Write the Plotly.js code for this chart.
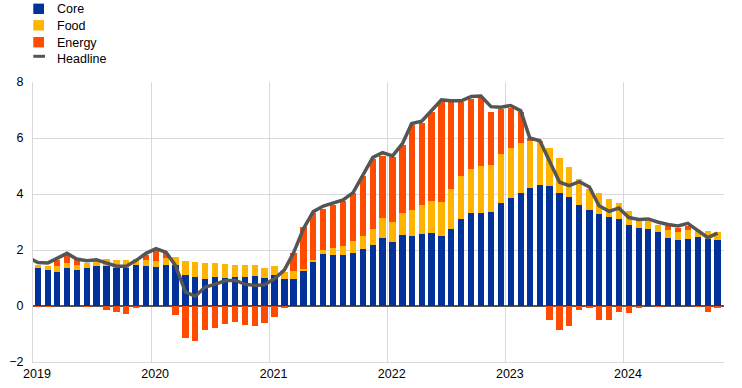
<!DOCTYPE html>
<html>
<head>
<meta charset="utf-8">
<script src="https://cdn.plot.ly/plotly-3.0.1.min.js"></script>
<style>html,body{margin:0;padding:0;background:#fff;}#chart{width:742px;height:388px;}</style>
</head>
<body>
<div id="chart"></div>
<script>
// Monthly categories: Jan 2019 .. Oct 2024 (plotted at mid-month)
const startYear = 2019;
const nMonths = 70;
const months = [];
for (let i = 0; i < nMonths; i++) {
  const y = startYear + Math.floor(i / 12);
  const m = (i % 12) + 1;
  months.push(y + '-' + String(m).padStart(2, '0') + '-16');
}

const core = [
  1.37, 1.30, 1.23, 1.37, 1.27, 1.37, 1.44, 1.44, 1.36, 1.36, 1.48, 1.44,
  1.41, 1.48, 1.45, 1.09, 1.02, 0.95, 1.05, 1.01, 1.04, 1.02, 1.08, 1.01,
  1.11, 0.96, 0.96, 1.25, 1.57, 1.86, 1.82, 1.82, 1.89, 2.04, 2.18, 2.43,
  2.29, 2.54, 2.50, 2.57, 2.61, 2.50, 2.75, 3.11, 3.32, 3.32, 3.36, 3.69,
  3.87, 4.05, 4.23, 4.33, 4.30, 4.05, 3.90, 3.62, 3.44, 3.30, 3.19, 3.12,
  2.90, 2.80, 2.76, 2.65, 2.44, 2.37, 2.40, 2.48, 2.40, 2.37
];
const food = [
  0.10, 0.14, 0.21, 0.18, 0.21, 0.18, 0.20, 0.24, 0.30, 0.30, 0.20, 0.19,
  0.21, 0.23, 0.29, 0.53, 0.56, 0.60, 0.50, 0.49, 0.44, 0.46, 0.40, 0.36,
  0.32, 0.27, 0.29, 0.07, 0.07, 0.14, 0.25, 0.32, 0.43, 0.46, 0.57, 0.71,
  0.71, 0.78, 0.93, 1.04, 1.14, 1.21, 1.43, 1.53, 1.57, 1.68, 1.68, 1.75,
  1.78, 1.78, 1.67, 1.54, 1.35, 1.25, 1.08, 0.93, 0.74, 0.74, 0.64, 0.56,
  0.50, 0.26, 0.30, 0.25, 0.29, 0.26, 0.30, 0.25, 0.29, 0.28
];
const energy = [
  -0.05, -0.05, 0.21, 0.28, 0.21, -0.04, 0.00, -0.15, -0.22, -0.27, -0.08, 0.20,
  0.37, 0.17, -0.33, -1.14, -1.25, -0.86, -0.77, -0.66, -0.58, -0.69, -0.73, -0.60,
  -0.38, -0.06, 0.65, 1.50, 1.69, 1.48, 1.55, 1.62, 1.73, 2.14, 2.50, 2.23,
  2.33, 2.42, 3.03, 2.94, 3.19, 3.59, 3.12, 2.66, 2.50, 2.45, 1.89, 1.58,
  1.43, 1.10, 0.10, 0.02, -0.49, -0.87, -0.70, -0.13, -0.06, -0.49, -0.49, -0.23,
  -0.26, -0.08, 0.00, -0.04, 0.12, 0.16, 0.16, -0.03, -0.23, -0.08
];
// Headline: one extra point for Dec 2018 (just left of the axis), then Jan 2019 .. Oct 2024
const headlineMonths = ['2018-12-16'].concat(months);
const headline = [
  1.75,
  1.55, 1.54, 1.69, 1.88, 1.68, 1.62, 1.65, 1.52, 1.42, 1.42, 1.63, 1.88,
  2.05, 1.92, 1.45, 0.50, 0.35, 0.68, 0.77, 0.90, 0.92, 0.78, 0.73, 0.76,
  0.97, 1.29, 1.90, 2.77, 3.37, 3.57, 3.67, 3.79, 4.05, 4.65, 5.31, 5.48,
  5.36, 5.81, 6.52, 6.60, 6.98, 7.36, 7.33, 7.33, 7.48, 7.50, 7.12, 7.10,
  7.16, 6.97, 6.00, 5.90, 5.17, 4.42, 4.30, 4.44, 4.25, 3.58, 3.38, 3.50,
  3.16, 3.09, 3.11, 2.99, 2.91, 2.86, 2.95, 2.69, 2.44, 2.60
];
const yearTicks = ['2019-01-01', '2020-01-01', '2021-01-01', '2022-01-01', '2023-01-01', '2024-01-01'];
const yearLabels = ['2019', '2020', '2021', '2022', '2023', '2024'];
const seriesNames = ['Core', 'Food', 'Energy', 'Headline'];
const seriesColors = ['#003299', '#FFB400', '#FF4B00', '#555555'];

const barWidth = 19.5 * 24 * 3600 * 1000;
const FONT = 'Liberation Sans, Arial, sans-serif';

const traces = [
  {type: 'bar', name: seriesNames[0], x: months, y: core, width: barWidth,
   marker: {color: seriesColors[0], line: {width: 0}}},
  {type: 'bar', name: seriesNames[1], x: months, y: food, width: barWidth,
   marker: {color: seriesColors[1], line: {width: 0}}},
  {type: 'bar', name: seriesNames[2], x: months, y: energy, width: barWidth,
   marker: {color: seriesColors[2], line: {width: 0}}},
  {type: 'scatter', mode: 'lines', name: seriesNames[3], x: headlineMonths, y: headline,
   line: {color: seriesColors[3], width: 3.5}, cliponaxis: true}
];

// Legend drawn at the top-left in pixel positions (converted to paper coords)
const W = 742, H = 388, ML = 33, MR = 18, MT = 82, MB = 26;
const PW = W - ML - MR, PH = H - MT - MB;
const px = v => (v - ML) / PW;
const py = v => (H - MB - v) / PH;
const legendRows = [8.8, 25.3, 42.2, 57.0];
const shapes = [];
const annotations = [];
for (let k = 0; k < 4; k++) {
  const yc = legendRows[k];
  if (k < 3) {
    shapes.push({type: 'rect', xref: 'paper', yref: 'paper',
      x0: px(33.3), x1: px(44), y0: py(yc - 5.2), y1: py(yc + 5.2),
      fillcolor: seriesColors[k], line: {width: 0}, layer: 'above'});
  } else {
    shapes.push({type: 'line', xref: 'paper', yref: 'paper',
      x0: px(33.3), x1: px(45), y0: py(yc - 0.7), y1: py(yc - 0.7),
      line: {color: seriesColors[k], width: 3}, layer: 'above'});
  }
  annotations.push({xref: 'paper', yref: 'paper', x: px(54.5), y: py(yc + (k === 3 ? 1.5 : 0.3)),
    xanchor: 'left', yanchor: 'middle', showarrow: false, text: seriesNames[k],
    font: {family: FONT, size: 12.5, color: '#000000'}});
}

const layout = {
  width: W, height: H,
  margin: {l: ML, r: MR, t: MT, b: MB, pad: 0},
  paper_bgcolor: '#ffffff', plot_bgcolor: '#ffffff',
  barmode: 'relative',
  bargap: 0,
  font: {family: FONT, size: 12.5, color: '#000000'},
  showlegend: false,
  shapes: shapes,
  annotations: annotations,
  xaxis: {type: 'date', range: ['2019-01-01', '2024-11-05'],
          tickmode: 'array', tickvals: yearTicks, ticktext: yearLabels,
          showgrid: true, gridcolor: '#d9d9d9', gridwidth: 1,
          showline: true, linecolor: '#d9d9d9', linewidth: 1,
          ticks: '', zeroline: false, ticklabelshift: 4,
          tickfont: {family: FONT, size: 12.5, color: '#000000'}},
  yaxis: {range: [-2, 8], tickmode: 'array', tickvals: [-2, 0, 2, 4, 6, 8],
          showgrid: true, gridcolor: '#d9d9d9', gridwidth: 1,
          showline: true, linecolor: '#d9d9d9', linewidth: 1,
          zeroline: true, zerolinecolor: '#555555', zerolinewidth: 1.5,
          ticks: '', ticklabelstandoff: 6,
          tickfont: {family: FONT, size: 12.5, color: '#000000'}}
};

Plotly.newPlot('chart', traces, layout, {displayModeBar: false, staticPlot: true});
</script>
</body>
</html>
